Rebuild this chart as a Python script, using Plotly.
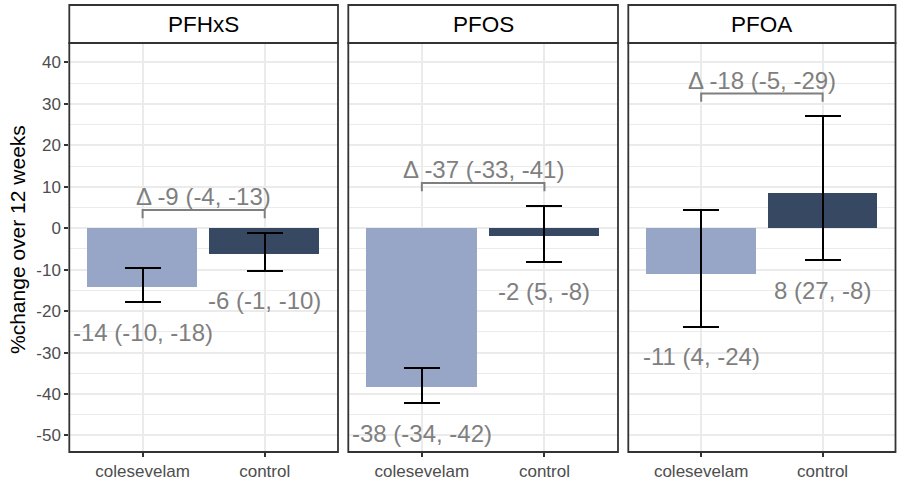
import plotly.graph_objects as go

compounds = ["PFHxS", "PFOS", "PFOA"]
groups = ["colesevelam", "control"]
estimate = {"PFHxS": [-14.2, -6.1], "PFOS": [-38.3, -1.8], "PFOA": [-11.1, 8.5]}
upper = {"PFHxS": [-9.7, -1.1], "PFOS": [-33.8, 5.4], "PFOA": [4.5, 27.0]}
lower = {"PFHxS": [-17.9, -10.3], "PFOS": [-42.2, -8.1], "PFOA": [-23.8, -7.7]}
labels = {"PFHxS": ["-14 (-10, -18)", "-6 (-1, -10)"],
          "PFOS": ["-38 (-34, -42)", "-2 (5, -8)"],
          "PFOA": ["-11 (4, -24)", "8 (27, -8)"]}
delta_labels = {"PFHxS": "Δ -9 (-4, -13)", "PFOS": "Δ -37 (-33, -41)", "PFOA": "Δ -18 (-5, -29)"}
y_ticks = [-50, -40, -30, -20, -10, 0, 10, 20, 30, 40]
y_tick_text = ["-50", "-40", "-30", "-20", "-10", "0", "10", "20", "30", "40"]

W, H = 897, 481
bar_colors = ["#97A6C6", "#374962"]
grey_text = "#7F7F7F"
FONT = "Liberation Sans, Arial, sans-serif"

panels_px = [(69.3, 338.0), (348.3, 618.0), (628.3, 895.5)]
plot_top, plot_bot = 43.0, 452.0
strip_top = 5.0

fig = go.Figure()
shapes = []
annotations = []

for i, comp in enumerate(compounds):
    n = i + 1
    xa = "x" if n == 1 else f"x{n}"
    ya = "y" if n == 1 else f"y{n}"
    est = estimate[comp]
    up = upper[comp]
    lo = lower[comp]
    fig.add_trace(go.Bar(
        x=[0, 1], y=est, width=0.9,
        marker=dict(color=bar_colors, line=dict(width=0)),
        error_y=dict(type="data", symmetric=False,
                     array=[u - e for u, e in zip(up, est)],
                     arrayminus=[e - l for e, l in zip(est, lo)],
                     color="black", thickness=2, width=18),
        xaxis=xa, yaxis=ya, showlegend=False, hoverinfo="skip"))
    # value labels
    for j in range(2):
        annotations.append(dict(x=j, y=lo[j], xref=xa, yref=ya, text=labels[comp][j],
                                showarrow=False, yshift=-30, yanchor="middle",
                                font=dict(size=24, color=grey_text, family=FONT)))
    # delta bracket
    by = max(up) + 5.5
    shapes.append(dict(type="path", xref=xa, yref=ya,
                       path=f"M 0,{by-2} L 0,{by} L 1,{by} L 1,{by-2}",
                       line=dict(color=grey_text, width=2)))
    annotations.append(dict(x=0.5, y=by, xref=xa, yref=ya, text=delta_labels[comp],
                            showarrow=False, yanchor="bottom", yshift=-2,
                            font=dict(size=24, color=grey_text, family=FONT)))

    x0, x1 = panels_px[i]
    dom = [x0 / W, x1 / W]
    axis_common = dict(showline=False, zeroline=False, mirror=False)
    fig.layout[f"xaxis{'' if n == 1 else n}"] = dict(
        domain=dom, range=[-0.6, 1.6], tickmode="array", tickvals=[0, 1], ticktext=groups,
        showgrid=True, gridcolor="#EBEBEB", gridwidth=1.5, ticks="outside", ticklen=4,
        tickwidth=1.5, tickcolor="#333333", anchor=ya,
        tickfont=dict(size=17, color="#4D4D4D", family=FONT), fixedrange=True, **axis_common)
    fig.layout[f"yaxis{'' if n == 1 else n}"] = dict(
        domain=[1 - plot_bot / H, 1 - plot_top / H], range=[-54.0, 44.7],
        tickmode="array", tickvals=y_ticks, ticktext=y_tick_text, showticklabels=(n == 1),
        showgrid=True, gridcolor="#EBEBEB", gridwidth=1.5,
        minor=dict(tickmode="array", tickvals=[t + 5 for t in y_ticks] + [-55], showgrid=True,
                   gridcolor="#EBEBEB", gridwidth=0.8, ticks=""),
        ticks="outside" if n == 1 else "", ticklen=4, tickwidth=1.5, tickcolor="#333333",
        anchor=xa, tickfont=dict(size=17, color="#4D4D4D", family=FONT), fixedrange=True,
        **axis_common)
    # panel border
    shapes.append(dict(type="rect", xref="paper", yref="paper",
                       x0=x0 / W, x1=x1 / W, y0=1 - plot_bot / H, y1=1 - plot_top / H,
                       line=dict(color="#333333", width=1.8), fillcolor="rgba(0,0,0,0)", layer="above"))
    # strip
    shapes.append(dict(type="rect", xref="paper", yref="paper",
                       x0=x0 / W, x1=x1 / W, y0=1 - plot_top / H, y1=1 - strip_top / H,
                       line=dict(color="#333333", width=1.8), fillcolor="white", layer="above"))
    annotations.append(dict(x=(x0 + x1) / 2 / W, y=1 - (plot_top + strip_top) / 2 / H,
                            xref="paper", yref="paper", text=comp, showarrow=False,
                            xanchor="center", yanchor="middle",
                            font=dict(size=22.5, color="black", family=FONT)))

annotations.append(dict(x=17 / W, y=1 - 240 / H, xref="paper", yref="paper",
                        text="%change over 12 weeks", textangle=-90, showarrow=False,
                        xanchor="center", yanchor="middle",
                        font=dict(size=21, color="black", family=FONT)))

fig.update_layout(width=W, height=H, margin=dict(l=0, r=0, t=0, b=0),
                  paper_bgcolor="white", plot_bgcolor="white",
                  shapes=shapes, annotations=annotations, bargap=0,
                  font=dict(family=FONT))
fig.write_html("out.html")
